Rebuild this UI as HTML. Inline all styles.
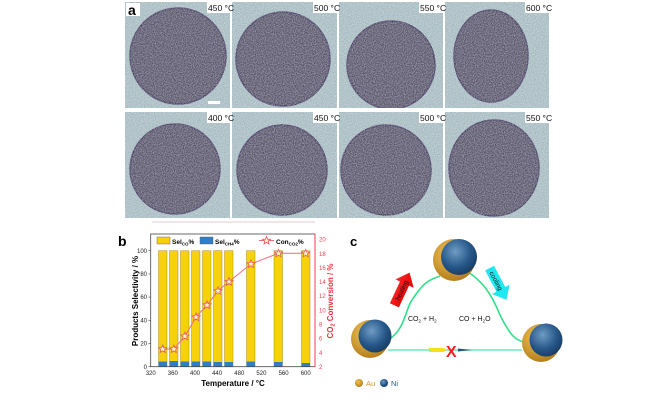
<!DOCTYPE html>
<html><head><meta charset="utf-8"><style>
html,body{margin:0;padding:0;background:#fff;width:650px;height:400px;overflow:hidden}
svg{display:block;font-family:"Liberation Sans",sans-serif}
</style></head><body>
<svg width="650" height="400" viewBox="0 0 650 400" xmlns="http://www.w3.org/2000/svg">
<defs>
<filter id="n" x="0" y="0" width="100%" height="100%">
<feTurbulence type="fractalNoise" baseFrequency="0.9" numOctaves="2" seed="3"/>
<feColorMatrix type="matrix" values="0 0 0 0 1  0 0 0 0 1  0 0 0 0 1  0 0 0 1.6 -0.5"/>
</filter>
<radialGradient id="ni" cx="0.4" cy="0.35" r="0.7"><stop offset="0" stop-color="#6f9cc4"/><stop offset="0.6" stop-color="#27588a"/><stop offset="1" stop-color="#173a60"/></radialGradient>
<radialGradient id="au" cx="0.4" cy="0.35" r="0.7"><stop offset="0" stop-color="#f3c35a"/><stop offset="1" stop-color="#b07a16"/></radialGradient>
<linearGradient id="rd" x1="0" y1="1" x2="0" y2="0"><stop offset="0" stop-color="#d00"/><stop offset="1" stop-color="#ff2a2a"/></linearGradient>
<polygon id="st" points="0,-4 1.1,-1.3 4,-1.2 1.8,0.6 2.5,3.5 0,1.9 -2.5,3.5 -1.8,0.6 -4,-1.2 -1.1,-1.3"/>
</defs>
<!-- panel a -->
<g>
<rect x="125" y="2" width="105" height="106" fill="#a3b9bf"/>
<rect x="232" y="2" width="105" height="106" fill="#a3b9bf"/>
<rect x="339" y="2" width="104" height="106" fill="#a3b9bf"/>
<rect x="445" y="2" width="104" height="106" fill="#a3b9bf"/>
<rect x="125" y="112" width="105" height="106" fill="#a3b9bf"/>
<rect x="232" y="112" width="105" height="106" fill="#a3b9bf"/>
<rect x="339" y="112" width="104" height="106" fill="#a3b9bf"/>
<rect x="445" y="112" width="104" height="106" fill="#a3b9bf"/>
<g fill="#57546a" stroke="#453d62" stroke-width="1.5">
<circle cx="178" cy="56" r="48"/>
<circle cx="283" cy="59" r="47"/>
<circle cx="391" cy="65" r="44"/>
<ellipse cx="491" cy="56" rx="37" ry="46"/>
<circle cx="175" cy="169" r="45"/>
<circle cx="282" cy="170" r="45"/>
<circle cx="386" cy="170" r="45"/>
<ellipse cx="494" cy="168" rx="45" ry="48"/>
</g>
<rect x="125" y="2" width="424" height="216" filter="url(#n)" opacity="0.55"/>
<rect x="230" y="0" width="2" height="220" fill="#fff"/>
<rect x="337" y="0" width="2" height="220" fill="#fff"/>
<rect x="443" y="0" width="2" height="220" fill="#fff"/>
<rect x="120" y="108" width="432" height="4" fill="#fff"/>
<rect x="126" y="3" width="14" height="13" fill="#fff"/>
<text x="128" y="15" font-size="14" font-weight="bold">a</text>
<rect x="208" y="101" width="12" height="3" fill="#fff"/>
<g font-size="8.5" fill="#111">
<rect x="207" y="2" width="23" height="11" fill="#fff"/><text x="208" y="11">450 °C</text>
<rect x="313" y="2" width="24" height="11" fill="#fff"/><text x="314" y="11">500 °C</text>
<rect x="419" y="2" width="24" height="11" fill="#fff"/><text x="420" y="11">550 °C</text>
<rect x="525" y="2" width="24" height="11" fill="#fff"/><text x="526" y="11">600 °C</text>
<rect x="207" y="112" width="23" height="11" fill="#fff"/><text x="208" y="121">400 °C</text>
<rect x="313" y="112" width="24" height="11" fill="#fff"/><text x="314" y="121">450 °C</text>
<rect x="419" y="112" width="24" height="11" fill="#fff"/><text x="420" y="121">500 °C</text>
<rect x="525" y="112" width="24" height="11" fill="#fff"/><text x="526" y="121">550 °C</text>
</g>
<line x1="152" y1="222" x2="315" y2="222" stroke="#e7c9cf" stroke-width="1"/>
</g>
<!-- panel b -->
<g>
<text x="118" y="246" font-size="14" font-weight="bold">b</text>
<g fill="#f7d20a" stroke="#8a7a10" stroke-width="0.4">
<rect x="158.5" y="250.7" width="8.5" height="116"/>
<rect x="169.5" y="250.7" width="8.5" height="116"/>
<rect x="180.5" y="250.7" width="8.5" height="116"/>
<rect x="191.5" y="250.7" width="8.5" height="116"/>
<rect x="202.5" y="250.7" width="8.5" height="116"/>
<rect x="213.5" y="250.7" width="8.5" height="116"/>
<rect x="224.5" y="250.7" width="8.5" height="116"/>
<rect x="246.5" y="250.7" width="8.5" height="116"/>
<rect x="274" y="250.7" width="8.5" height="116"/>
<rect x="301.5" y="250.7" width="8.5" height="116"/>
</g>
<g fill="#2f7fc8">
<rect x="158.5" y="361.5" width="8.5" height="5.2"/>
<rect x="169.5" y="361" width="8.5" height="5.7"/>
<rect x="180.5" y="361.5" width="8.5" height="5.2"/>
<rect x="191.5" y="361.5" width="8.5" height="5.2"/>
<rect x="202.5" y="361.5" width="8.5" height="5.2"/>
<rect x="213.5" y="362" width="8.5" height="4.7"/>
<rect x="224.5" y="362" width="8.5" height="4.7"/>
<rect x="246.5" y="361.5" width="8.5" height="5.2"/>
<rect x="274" y="362" width="8.5" height="4.7"/>
<rect x="301.5" y="363" width="8.5" height="3.7"/>
</g>
<polyline points="162.7,349 173.8,349 184.9,336.2 196,317.1 207,305 218,290.8 229,281.6 251,263.9 278.5,253.3 305.7,253.3" fill="none" stroke="#f06a7a" stroke-width="1"/>
<g fill="#fff3c0" stroke="#e8546a" stroke-width="0.8">
<use href="#st" x="162.7" y="349"/><use href="#st" x="173.8" y="349"/><use href="#st" x="184.9" y="336.2"/><use href="#st" x="196" y="317.1"/><use href="#st" x="207" y="305"/><use href="#st" x="218" y="290.8"/><use href="#st" x="229" y="281.6"/><use href="#st" x="251" y="263.9"/><use href="#st" x="278.5" y="253.3"/><use href="#st" x="305.7" y="253.3"/>
</g>
<rect x="150.7" y="234" width="164.3" height="132.7" fill="none" stroke="#444" stroke-width="0.8"/>
<line x1="315" y1="234" x2="315" y2="367" stroke="#f04050" stroke-width="1"/>
<rect x="157" y="237" width="13" height="7" fill="#f7d20a" stroke="#555" stroke-width="0.4"/>
<text x="172" y="244" font-size="6.5" font-weight="bold">Sel<tspan font-size="4.5" dy="1.5">CO</tspan><tspan dy="-1.5">%</tspan></text>
<rect x="200" y="237" width="13" height="7" fill="#2f7fc8" stroke="#555" stroke-width="0.4"/>
<text x="215" y="244" font-size="6.5" font-weight="bold">Sel<tspan font-size="4.5" dy="1.5">CH4</tspan><tspan dy="-1.5">%</tspan></text>
<line x1="259" y1="240.5" x2="274" y2="240.5" stroke="#f06a7a" stroke-width="1"/>
<use href="#st" x="266.5" y="240.5" fill="#fff3c0" stroke="#e8546a" stroke-width="0.8"/>
<text x="276" y="244" font-size="6.5" font-weight="bold">Con<tspan font-size="4.5" dy="1.5">CO2</tspan><tspan dy="-1.5">%</tspan></text>
<g font-size="6" text-anchor="end" fill="#222">
<text x="147" y="369">0</text><text x="147" y="345.5">20</text><text x="147" y="322.5">40</text><text x="147" y="299">60</text><text x="147" y="276">80</text><text x="147" y="253">100</text>
</g>
<g stroke="#444" stroke-width="0.6">
<line x1="148.5" y1="366.7" x2="150.7" y2="366.7"/><line x1="148.5" y1="343.5" x2="150.7" y2="343.5"/><line x1="148.5" y1="320.3" x2="150.7" y2="320.3"/><line x1="148.5" y1="297.1" x2="150.7" y2="297.1"/><line x1="148.5" y1="273.9" x2="150.7" y2="273.9"/><line x1="148.5" y1="250.7" x2="150.7" y2="250.7"/>
</g>
<g font-size="6" fill="#f04050">
<text x="319" y="369">2</text><text x="319" y="355">4</text><text x="319" y="340.5">6</text><text x="319" y="326.5">8</text><text x="319" y="312.5">10</text><text x="319" y="298">12</text><text x="319" y="284">14</text><text x="319" y="270">16</text><text x="319" y="256">18</text><text x="319" y="241.5">20</text>
</g>
<g font-size="6" text-anchor="middle" fill="#222">
<text x="150.7" y="375">320</text><text x="172.8" y="375">360</text><text x="195" y="375">400</text><text x="217.1" y="375">440</text><text x="239.3" y="375">480</text><text x="261.4" y="375">520</text><text x="283.6" y="375">560</text><text x="305.7" y="375">600</text>
</g>
<text x="233" y="386" font-size="8" font-weight="bold" text-anchor="middle">Temperature / °C</text>
<text transform="translate(138,301) rotate(-90)" font-size="8" font-weight="bold" text-anchor="middle">Products Selectivity / %</text>
<text transform="translate(333,301) rotate(-90)" font-size="8" font-weight="bold" text-anchor="middle" fill="#f03040">CO<tspan font-size="5.5" dy="1.5">2</tspan><tspan dy="-1.5"> Conversion / %</tspan></text>
</g>
<!-- panel c -->
<g>
<text x="350" y="246" font-size="13" font-weight="bold">c</text>
<path d="M388,340 C405,330 405,310 412,300 C425,280 430,280 440,276" fill="none" stroke="#2ee08a" stroke-width="1.6"/>
<path d="M468,272 C480,280 490,290 500,315 C510,335 515,340 524,342" fill="none" stroke="#2ee08a" stroke-width="1.6"/>
<line x1="388" y1="350" x2="522" y2="350" stroke="#6ee8b0" stroke-width="1.6"/>
<polygon points="428,348 444,348 446,350 444,352 428,352 431,350" fill="#f5e020"/>
<polygon points="458,348.5 472,350 458,351.5" fill="#2a5a7a"/>
<text x="446" y="357" font-size="16" fill="#f02020" font-weight="bold">X</text>
<g transform="translate(402,289) rotate(-65)"><polygon points="-18,-5 6,-5 6,-10 18,0 6,10 6,5 -18,5" fill="url(#rd)"/><text x="-12" y="2.5" font-size="6.5" fill="#111">heating</text></g>
<g transform="translate(498,284) rotate(62)"><polygon points="-18,-5 6,-5 6,-10 18,0 6,10 6,5 -18,5" fill="#1ee8f0"/><text x="-14" y="2.5" font-size="6.5" fill="#111">cooling</text></g>
<text x="408" y="321" font-size="7" fill="#111">CO<tspan font-size="4.5" dy="1.5">2</tspan><tspan dy="-1.5"> + H</tspan><tspan font-size="4.5" dy="1.5">2</tspan></text>
<text x="459" y="321" font-size="7" fill="#111">CO + H<tspan font-size="4.5" dy="1.5">2</tspan><tspan dy="-1.5">O</tspan></text>
<circle cx="454" cy="260" r="21" fill="url(#au)"/>
<circle cx="459" cy="257" r="18" fill="url(#ni)"/>
<circle cx="370" cy="339" r="19" fill="url(#au)"/>
<circle cx="375" cy="336" r="16.5" fill="url(#ni)"/>
<circle cx="541" cy="343" r="19" fill="url(#au)"/>
<circle cx="546" cy="340" r="16.5" fill="url(#ni)"/>
<circle cx="359" cy="383" r="4" fill="url(#au)"/>
<text x="366" y="386" font-size="7.5" fill="#d49a20">Au</text>
<circle cx="384" cy="383" r="4" fill="url(#ni)"/>
<text x="391" y="386" font-size="7.5" fill="#2a5a9a">Ni</text>
</g>
</svg>
</body></html>
